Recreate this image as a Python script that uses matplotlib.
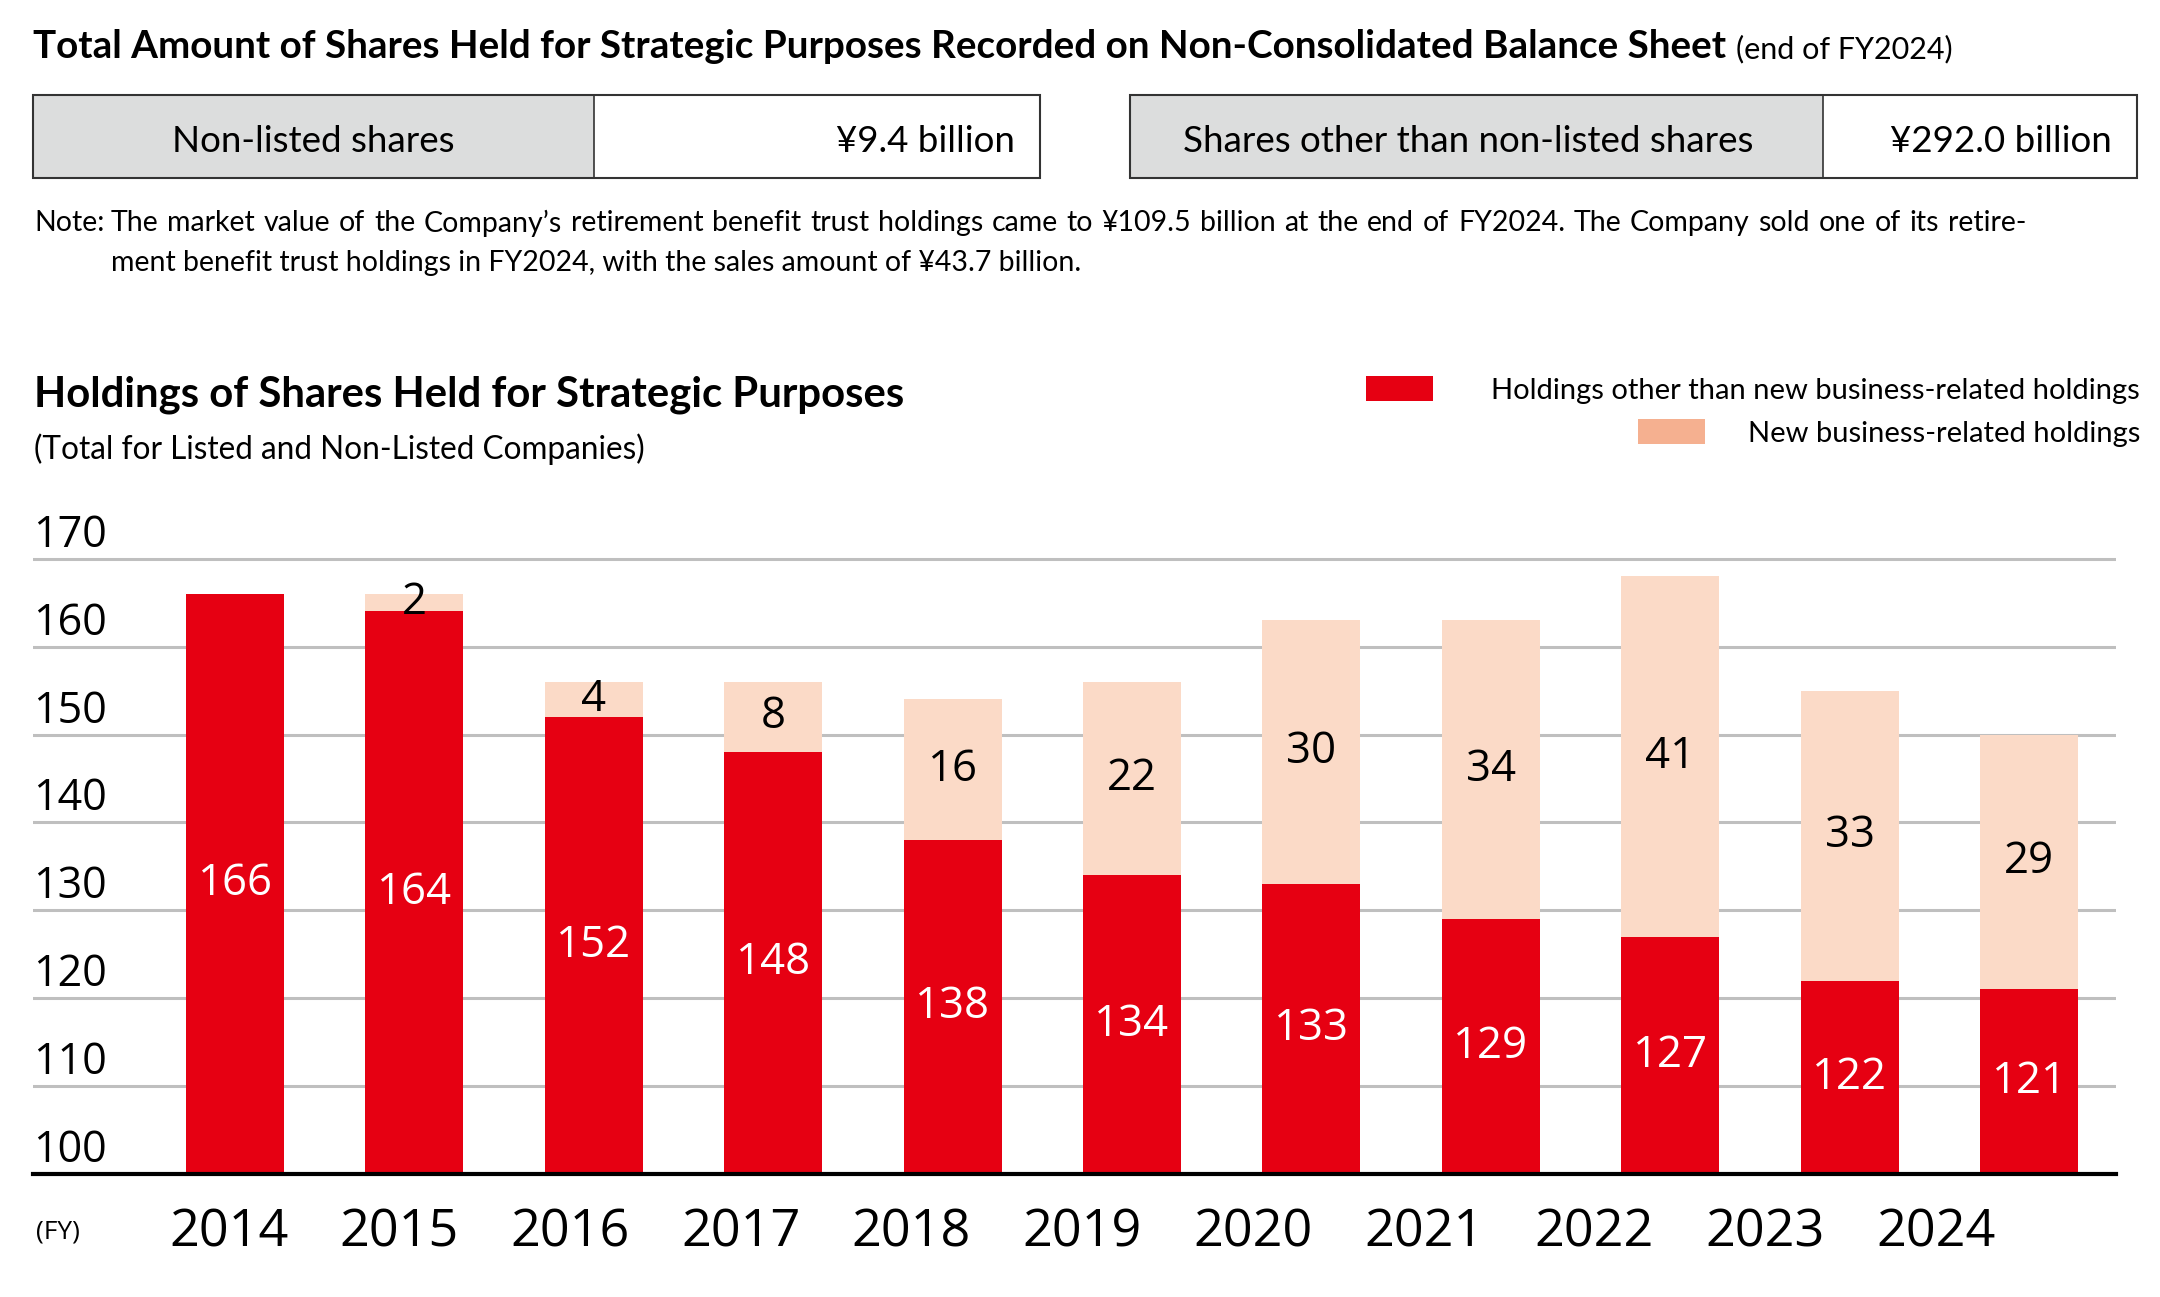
import numpy as np
import matplotlib
matplotlib.use('Agg')
import matplotlib.pyplot as plt
from matplotlib.patches import Rectangle, Patch
from matplotlib.transforms import offset_copy

# ---- data ----
years = ['2014', '2015', '2016', '2017', '2018', '2019', '2020', '2021', '2022', '2023', '2024']
other_holdings = [166, 164, 152, 148, 138, 134, 133, 129, 127, 122, 121]
new_holdings = [0, 2, 4, 8, 16, 22, 30, 34, 41, 33, 29]
y_ticks = [100, 110, 120, 130, 140, 150, 160, 170]

box_labels = ['Non-listed shares', 'Shares other than non-listed shares']
box_values = ['¥9.4 billion', '¥292.0 billion']

title = 'Total Amount of Shares Held for Strategic Purposes Recorded on Non-Consolidated Balance Sheet'
title_note = '(end of FY2024)'
note_line1 = ('The market value of the Company’s retirement benefit trust holdings came to ¥109.5 billion '
              'at the end of FY2024. The Company sold one of its retire-')
note_line2 = 'ment benefit trust holdings in FY2024, with the sales amount of ¥43.7 billion.'
chart_title = 'Holdings of Shares Held for Strategic Purposes'
chart_sub = '(Total for Listed and Non-Listed Companies)'
legend_labels = ['Holdings other than new business-related holdings', 'New business-related holdings']

RED = '#e60012'
PEACH = '#fbdac7'
PEACH_KEY = '#f5b090'
GRID = '#bfbfbf'
TXT_FONT = ['Lato', 'DejaVu Sans']
NUM_FONT = ['Open Sans', 'DejaVu Sans']

W, H = 2160, 1297
fig = plt.figure(figsize=(W / 100, H / 100), dpi=100)

# overlay in pixel coords for header stuff
ov = fig.add_axes([0, 0, 1, 1])
ov.set_xlim(0, W)
ov.set_ylim(H, 0)
ov.axis('off')
renderer = fig.canvas.get_renderer()

# title
t = ov.text(33, 58, title, fontsize=27.8, fontweight='bold', family=TXT_FONT, va='baseline')
tw = t.get_window_extent(renderer).width
ov.text(33 + tw + 10, 58, title_note, fontsize=22, family=TXT_FONT, va='baseline')

# boxes
box_x = [33, 1130]
box_w = 1007
label_w = [561, 693]
for i in range(2):
    x0 = box_x[i]
    ov.add_patch(Rectangle((x0, 95), label_w[i], 83, facecolor='#dcdddd', edgecolor='none'))
    ov.add_patch(Rectangle((x0, 95), box_w, 83, facecolor='none', edgecolor='#333333', lw=1.5))
    ov.plot([x0 + label_w[i]] * 2, [95, 178], color='#333333', lw=1.2)
    ov.text(x0 + label_w[i] / 2 - 8 * i, 141, box_labels[i], fontsize=26.5, family=TXT_FONT, ha='center', va='center')
    ov.text(x0 + box_w - 25, 141, box_values[i], fontsize=26.5, family=TXT_FONT, ha='right', va='center')

# note, first line justified
ov.text(34, 223, 'Note:', fontsize=20.5, family=TXT_FONT, va='center')
words = note_line1.split(' ')
texts = [ov.text(0, 223, w, fontsize=20.5, family=TXT_FONT, va='center') for w in words]
widths = [tt.get_window_extent(renderer).width for tt in texts]
gap = (2026 - 111 - sum(widths)) / (len(words) - 1)
xpos = 111
for tt, w in zip(texts, widths):
    tt.set_x(xpos)
    xpos += w + gap
ov.text(111, 263, note_line2, fontsize=20.5, family=TXT_FONT, va='center')

# chart titles
ov.text(34, 395, chart_title, fontsize=30.2, fontweight='bold', family=TXT_FONT, va='center')
ov.text(34, 449, chart_sub, fontsize=22.7, family=TXT_FONT, va='center')
ov.text(58, 1232, '(FY)', fontsize=19, family=NUM_FONT, ha='center', va='center')

# ---- bar chart ----
base_px, px_per_unit = 1174, 8.79
ymax = 172
ax_h = (ymax - 100) * px_per_unit
ax = fig.add_axes([33 / W, 1 - base_px / H, 2083 / W, ax_h / H])
ax.patch.set_alpha(0)
x = np.arange(len(years))
ax.bar(x, other_holdings, width=0.546, color=RED, zorder=2)
ax.bar(x, new_holdings, width=0.546, bottom=other_holdings, color=PEACH, zorder=2)
ax.set_xlim(-1.126, 10.485)
ax.set_ylim(100, ymax)
ax.set_yticks(y_ticks)
ax.yaxis.grid(True, color=GRID, lw=2.2)
ax.set_axisbelow(True)
ax.tick_params(left=False, labelleft=False, bottom=False, labelbottom=False)
for s in ax.spines.values():
    s.set_visible(False)
ax.axhline(100, color='black', lw=3, zorder=3, clip_on=False)

ytr = offset_copy(ax.get_yaxis_transform(), fig=fig, y=12, units='dots')
for v in y_ticks:
    ax.text(0, v, str(v), transform=ytr, fontsize=31, family=NUM_FONT, ha='left', va='baseline', clip_on=False)

for i in range(len(years)):
    ax.text(i, (100 + other_holdings[i]) / 2, str(other_holdings[i]), color='white', fontsize=31.5,
            family=NUM_FONT, ha='center', va='center', zorder=4)
    if new_holdings[i] > 0:
        ax.text(i, other_holdings[i] + new_holdings[i] / 2, str(new_holdings[i]), color='black',
                fontsize=31.5, family=NUM_FONT, ha='center', va='center', zorder=4)
    # year labels drift a bit left of bars in the original
    ax.text(i * 0.9515 - 0.035, -0.093, years[i], transform=ax.get_xaxis_transform(), fontsize=37.5,
            family=NUM_FONT, ha='center', va='center', clip_on=False)

# legend: two single-entry legends so each row is right aligned
legend_colors = [RED, PEACH_KEY]
legend_y = [390, 433]
legend_pad = [2.0, 1.45]
for lab, col, ly, pad in zip(legend_labels, legend_colors, legend_y, legend_pad):
    fig.legend([Patch(facecolor=col)], [lab], loc='center right', bbox_to_anchor=(2140 / W, 1 - ly / H),
               frameon=False, prop={'family': TXT_FONT, 'size': 21},
               handlelength=2.3, handleheight=0.9, handletextpad=pad,
               borderpad=0, borderaxespad=0)

fig.savefig('out.png', dpi=100)
